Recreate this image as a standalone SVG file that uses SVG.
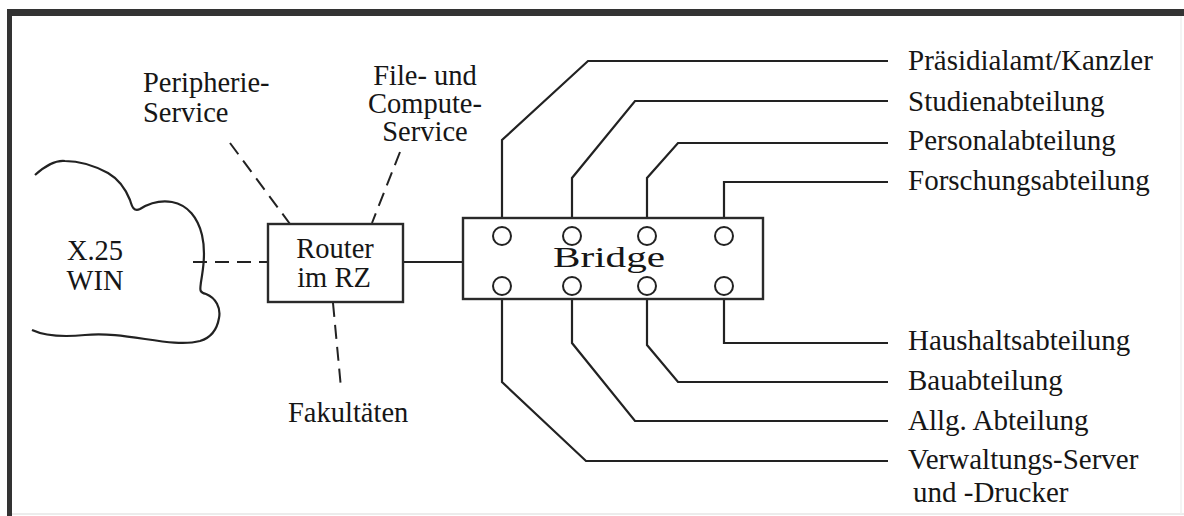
<svg xmlns="http://www.w3.org/2000/svg" width="1184" height="516" viewBox="0 0 1184 516">
<style>
.t{font-family:"Liberation Serif","Times New Roman",serif;font-size:28.5px;fill:#161616}
.r{font-family:"Liberation Serif","Times New Roman",serif;font-size:29px;fill:#161616}
.ln{fill:none;stroke:#222;stroke-width:2.2;stroke-linejoin:miter}
.ds{fill:none;stroke:#222;stroke-width:2;stroke-dasharray:14 8}
.box{fill:#fff;stroke:#2a2a2a;stroke-width:2.4}
.port{fill:#fff;stroke:#222;stroke-width:2}
</style>
<rect x="0" y="0" width="1184" height="516" fill="#fff"/>
<g id="frame">
<rect x="7" y="9" width="1177" height="7" fill="#333"/>
<rect x="7" y="9" width="5" height="507" fill="#333"/>
<line x1="12" y1="514" x2="1184" y2="514" stroke="#e6e6e6" stroke-width="1.5"/>
<line x1="1181" y1="16" x2="1181" y2="514" stroke="#f0f0f0" stroke-width="1.5"/>
</g>
<g id="connectors">
<line class="ds" x1="193" y1="262" x2="268" y2="262"/>
<line class="ds" x1="230" y1="143" x2="290" y2="224"/>
<line class="ds" x1="400" y1="152" x2="372" y2="223"/>
<line class="ds" x1="333" y1="303" x2="341" y2="388"/>
<line class="ln" x1="403" y1="262" x2="463" y2="262"/>
<polyline class="ln" points="502,227 502,140 588,61 888,61"/>
<polyline class="ln" points="572,227 572,178 635,101 888,101"/>
<polyline class="ln" points="647,227 647,178 678,143 888,143"/>
<polyline class="ln" points="724,227 724,182 888,182"/>
<polyline class="ln" points="724,295 724,343 888,343"/>
<polyline class="ln" points="647,295 647,345 678,382 888,382"/>
<polyline class="ln" points="572,295 572,343 635,421 888,421"/>
<polyline class="ln" points="502,295 502,382 586,461 888,461"/>
</g>
<g id="cloud">
<path class="ln" d="M35,175 C45,166 55,160 65,161 C80,161 95,166 108,173 C120,180 126,190 130,200 C132,207 134,212 140,209 C148,204 160,200 172,202 C188,205 198,218 202,235 C206,252 203,270 201,282 C200,290 199,292 206,294 C216,298 221,308 219,318 C217,330 210,338 200,341 C185,345 165,342 145,339 C125,336 105,333 85,335 C65,337 45,336 32,330"/>
<text class="t" x="95" y="260" text-anchor="middle">X.25</text>
<text class="t" x="95" y="290" text-anchor="middle">WIN</text>
</g>
<g id="router">
<rect class="box" x="268" y="224" width="135" height="78"/>
<text class="t" x="335" y="258" text-anchor="middle">Router</text>
<text class="t" x="334" y="287" text-anchor="middle">im RZ</text>
</g>
<g id="peripherie">
<text class="t" x="143" y="92">Peripherie-</text>
<text class="t" x="143" y="122">Service</text>
</g>
<g id="fileservice">
<text class="t" x="425" y="85" text-anchor="middle">File- und</text>
<text class="t" x="425" y="113" text-anchor="middle">Compute-</text>
<text class="t" x="425" y="141" text-anchor="middle">Service</text>
</g>
<g id="fakultaeten">
<text class="t" x="288" y="422">Fakultäten</text>
</g>
<g id="bridge">
<rect class="box" x="463" y="218" width="300" height="81"/>
<circle class="port" cx="502" cy="236" r="9"/>
<circle class="port" cx="572" cy="236" r="9"/>
<circle class="port" cx="647" cy="236" r="9"/>
<circle class="port" cx="724" cy="236" r="9"/>
<circle class="port" cx="502" cy="286" r="9"/>
<circle class="port" cx="572" cy="286" r="9"/>
<circle class="port" cx="647" cy="286" r="9"/>
<circle class="port" cx="724" cy="286" r="9"/>
<text class="t" x="553" y="267" style="font-size:30px" textLength="112" lengthAdjust="spacingAndGlyphs">Bridge</text>
</g>
<g id="labels">
<text class="r" x="908" y="70">Präsidialamt/Kanzler</text>
<text class="r" x="908" y="111">Studienabteilung</text>
<text class="r" x="908" y="150">Personalabteilung</text>
<text class="r" x="908" y="190">Forschungsabteilung</text>
<text class="r" x="908" y="350">Haushaltsabteilung</text>
<text class="r" x="908" y="390">Bauabteilung</text>
<text class="r" x="908" y="430">Allg. Abteilung</text>
<text class="r" x="908" y="469">Verwaltungs-Server</text>
<text class="r" x="913" y="502">und -Drucker</text>
</g>
</svg>
